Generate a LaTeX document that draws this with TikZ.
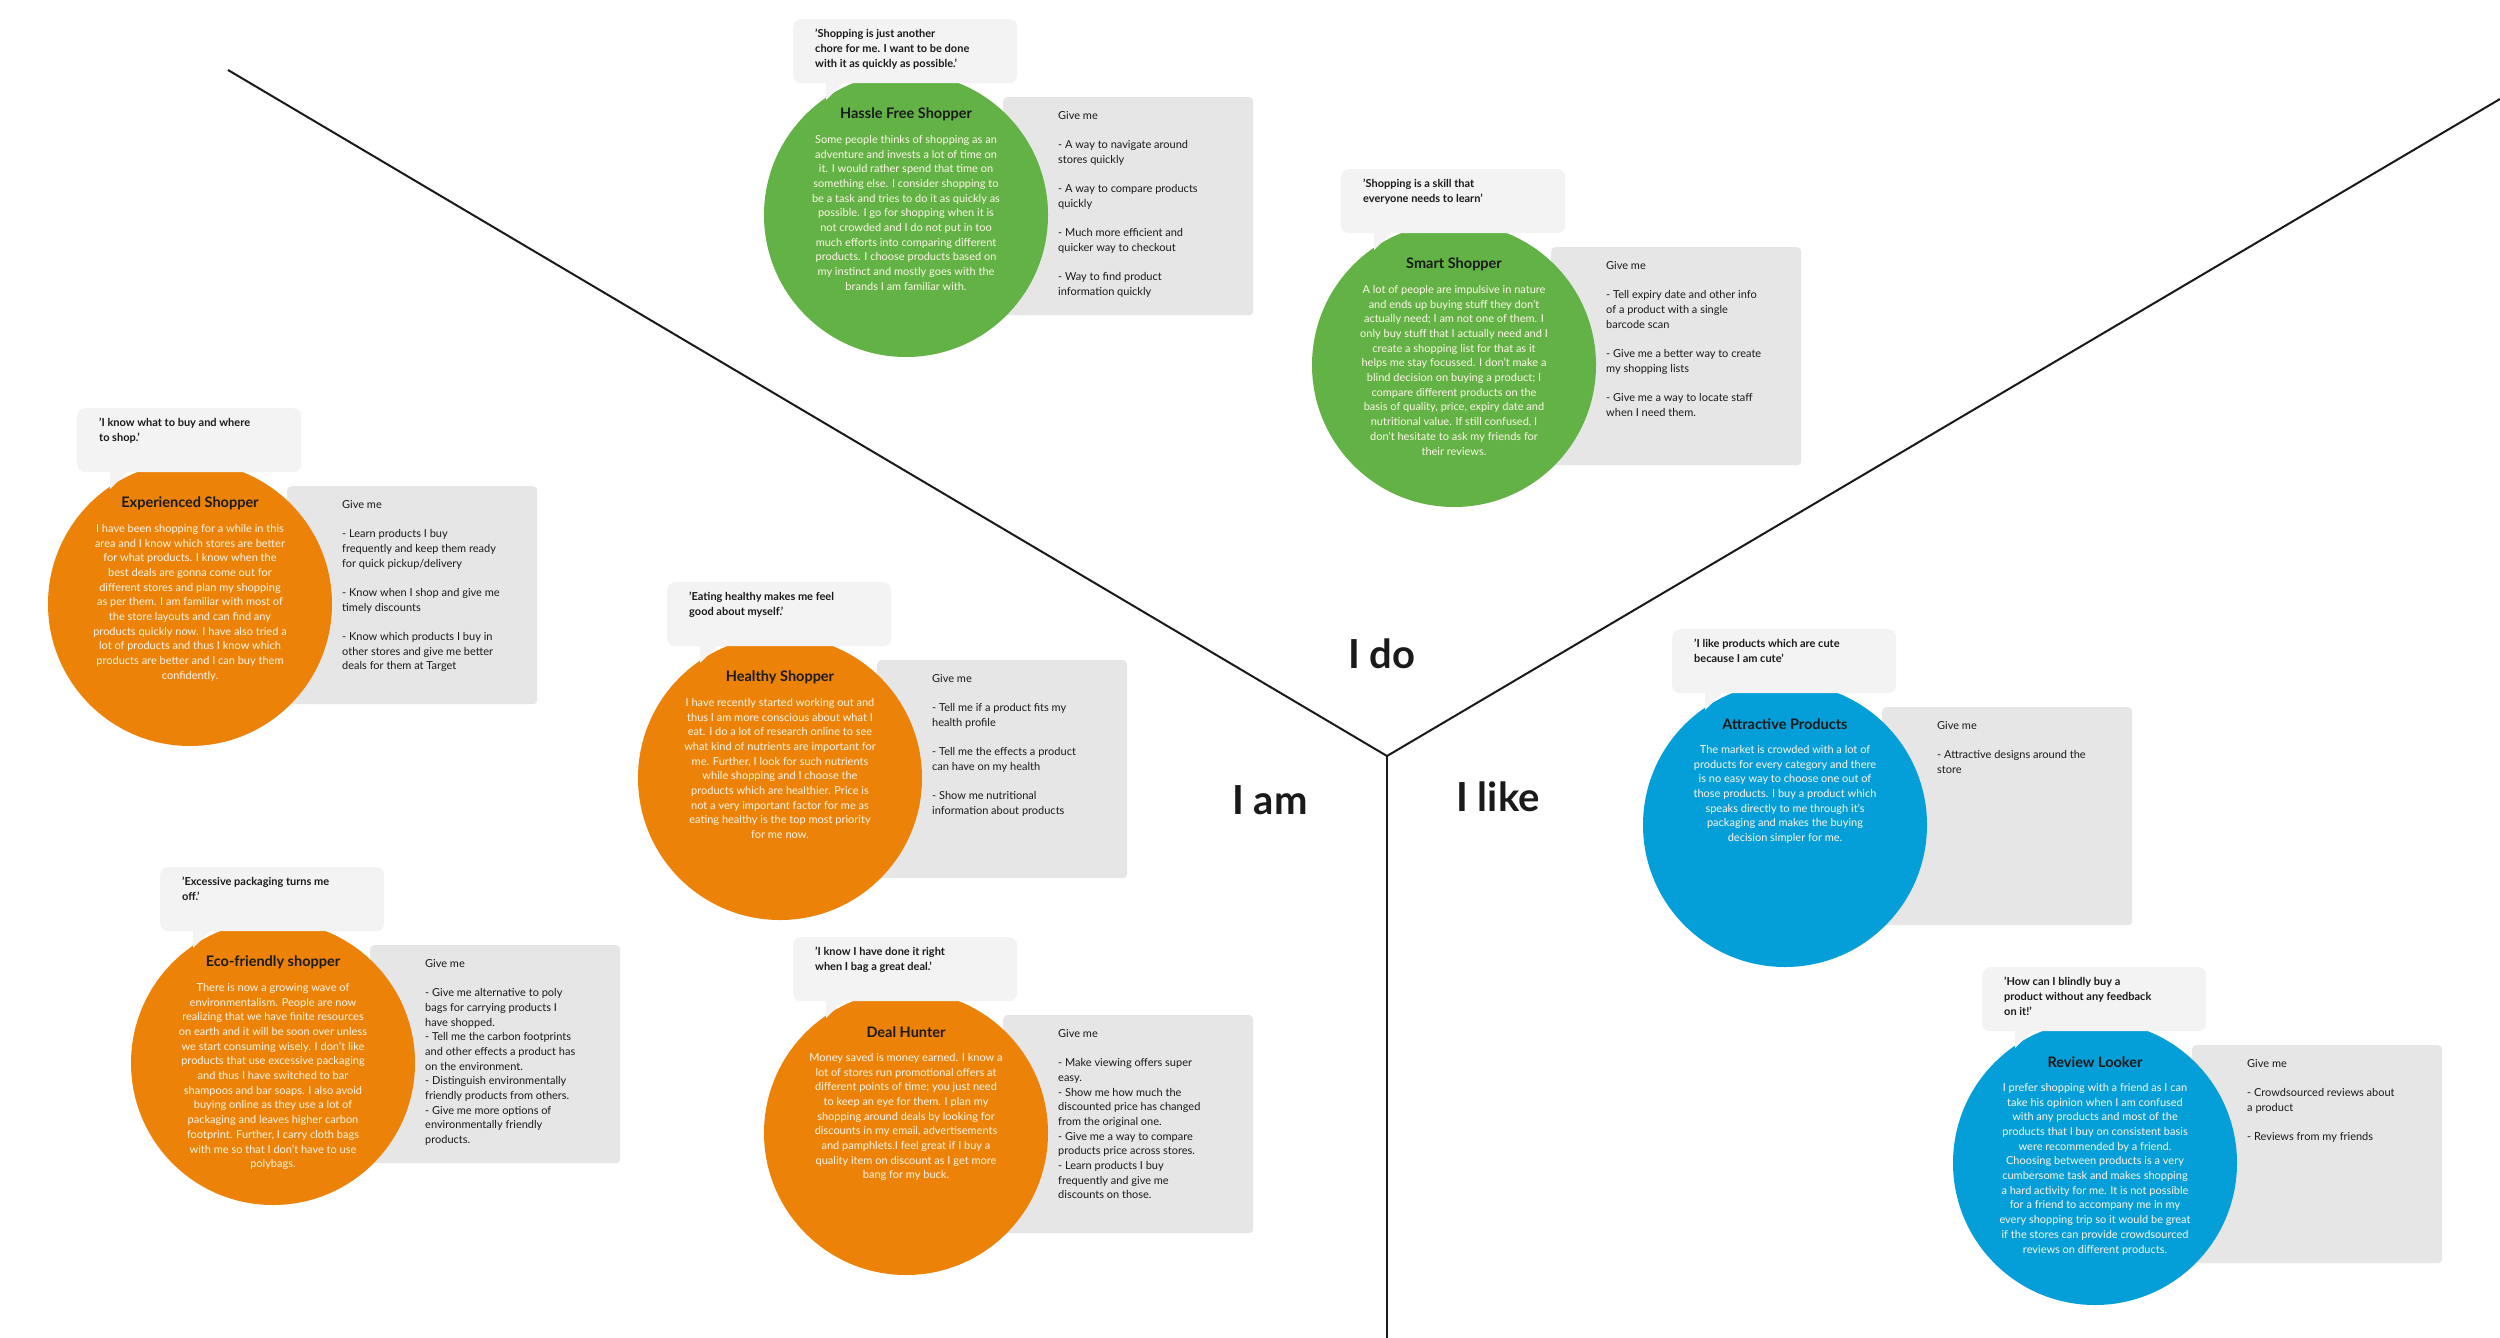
\documentclass[tikz,border=0pt]{standalone}
\usepackage{fontspec}
\setmainfont{Lato}
\definecolor{cgreen}{HTML}{62B245}
\definecolor{corange}{HTML}{EC8208}
\definecolor{cblue}{HTML}{049FD9}
\definecolor{cgray}{HTML}{E6E6E6}
\definecolor{cquote}{HTML}{F3F3F3}
\definecolor{cdark}{HTML}{1A1A1A}
\definecolor{cbody}{HTML}{FFF6E8}
\tikzset{
  gbox/.style={fill=cgray, rounded corners=4pt, inner sep=0pt},
  qbox/.style={fill=cquote, rounded corners=8pt, inner sep=0pt},
  disc/.style={circle, inner sep=0pt, minimum size=284pt},
  qtext/.style={inner sep=0pt, align=left, text=cdark, font=\fontsize{11}{14.7}\selectfont\bfseries},
  ttext/.style={inner sep=0pt, text=cdark, font=\fontsize{14.5}{17}\selectfont\bfseries},
  btext/.style={inner sep=0pt, align=center, text=cbody, font=\fontsize{11}{14.7}\selectfont},
  gtext/.style={inner sep=0pt, align=left, text=cdark, font=\fontsize{11}{14.7}\selectfont},
  biglabel/.style={inner sep=0pt, text=cdark, font=\fontsize{40}{44}\selectfont\bfseries},
  axis/.style={line width=2pt, draw=cdark}
}
\newcommand\persona[8]{%
\begin{scope}[shift={(#2,#3)}]
\node[gbox, minimum width=250pt, minimum height=218pt, anchor=north west] (#1g) at (97,-118) {};
\node[disc, fill=#4] (#1c) at (0,0) {};
\node[qbox, minimum width=224pt, minimum height=64pt, anchor=north west] (#1q) at (-113,-196) {};
\fill[cquote] (-80,-133) -- (-80,-115) -- (-62,-133) -- cycle;
\node[qtext, anchor=north west] (#1qt) at (-91,-186) {#5};
\node[ttext] (#1t) at (0,-101) {#6};
\node[btext, anchor=north] (#1b) at (0,-80) {#7};
\node[gtext, anchor=north west] (#1gt) at (152,-104) {Give me\\[14.7pt]#8};
\end{scope}}
\begin{document}
\begin{tikzpicture}[x=1pt,y=-1pt]
\useasboundingbox[fill=white] (0,0) rectangle (2500,1338);
\coordinate (o) at (1387,756);
\coordinate (tl) at (228,70);
\coordinate (tr) at (2500,99);
\coordinate (bt) at (1387,1338);
\draw[axis] (tl) -- (o) -- (tr);
\draw[axis] (o) -- (bt);
\node[biglabel] (ido) at (1382,654) {I do};
\node[biglabel] (iam) at (1270,800) {I am};
\node[biglabel] (ilike) at (1498,797) {I like};

\persona{hassle}{906}{215}{cgreen}
{'Shopping is just another\\chore for me. I want to be done\\with it as quickly as possible.'}
{Hassle Free Shopper}
{Some people thinks of shopping as an\\adventure and invests a lot of time on\\it. I would rather spend that time on\\something else. I consider shopping to\\be a task and tries to do it as quickly as\\possible. I go for shopping when it is\\not crowded and I do not put in too\\much efforts into comparing different\\products. I choose products based on\\my instinct and mostly goes with the\\brands I am familiar with.}
{- A way to navigate around\\stores quickly\\[14.7pt]- A way to compare products\\quickly\\[14.7pt]- Much more efficient and\\quicker way to checkout\\[14.7pt]- Way to find product\\information quickly}

\persona{smart}{1454}{365}{cgreen}
{'Shopping is a skill that\\everyone needs to learn'}
{Smart Shopper}
{A lot of people are impulsive in nature\\and ends up buying stuff they don't\\actually need; I am not one of them. I\\only buy stuff that I actually need and I\\create a shopping list for that as it\\helps me stay focussed. I don't make a\\blind decision on buying a product; I\\compare different products on the\\basis of quality, price, expiry date and\\nutritional value. If still confused, I\\don't hesitate to ask my friends for\\their reviews.}
{- Tell expiry date and other info\\of a product with a single\\barcode scan\\[14.7pt]- Give me a better way to create\\my shopping lists\\[14.7pt]- Give me a way to locate staff\\when I need them.}

\persona{exp}{190}{604}{corange}
{'I know what to buy and where\\to shop.'}
{Experienced Shopper}
{I have been shopping for a while in this\\area and I know which stores are better\\for what products. I know when the\\best deals are gonna come out for\\different stores and plan my shopping\\as per them. I am familiar with most of\\the store layouts and can find any\\products quickly now. I have also tried a\\lot of products and thus I know which\\products are better and I can buy them\\confidently.}
{- Learn products I buy\\frequently and keep them ready\\for quick pickup/delivery\\[14.7pt]- Know when I shop and give me\\timely discounts\\[14.7pt]- Know which products I buy in\\other stores and give me better\\deals for them at Target}

\persona{healthy}{780}{778}{corange}
{'Eating healthy makes me feel\\good about myself.'}
{Healthy Shopper}
{I have recently started working out and\\thus I am more conscious about what I\\eat. I do a lot of research online to see\\what kind of nutrients are important for\\me. Further, I look for such nutrients\\while shopping and I choose the\\products which are healthier. Price is\\not a very important factor for me as\\eating healthy is the top most priority\\for me now.}
{- Tell me if a product fits my\\health profile\\[14.7pt]- Tell me the effects a product\\can have on my health\\[14.7pt]- Show me nutritional\\information about products}

\persona{eco}{273}{1063}{corange}
{'Excessive packaging turns me\\off.'}
{Eco-friendly shopper}
{There is now a growing wave of\\environmentalism. People are now\\realizing that we have finite resources\\on earth and it will be soon over unless\\we start consuming wisely. I don't like\\products that use excessive packaging\\and thus I have switched to bar\\shampoos and bar soaps. I also avoid\\buying online as they use a lot of\\packaging and leaves higher carbon\\footprint. Further, I carry cloth bags\\with me so that I don't have to use\\polybags.}
{- Give me alternative to poly\\bags for carrying products I\\have shopped.\\- Tell me the carbon footprints\\and other effects a product has\\on the environment.\\- Distinguish environmentally\\friendly products from others.\\- Give me more options of\\environmentally friendly\\products.}

\persona{deal}{906}{1133}{corange}
{'I know I have done it right\\when I bag a great deal.'}
{Deal Hunter}
{Money saved is money earned. I know a\\lot of stores run promotional offers at\\different points of time; you just need\\to keep an eye for them. I plan my\\shopping around deals by looking for\\discounts in my email, advertisements\\and pamphlets.I feel great if I buy a\\quality item on discount as I get more\\bang for my buck.}
{- Make viewing offers super\\easy.\\- Show me how much the\\discounted price has changed\\from the original one.\\- Give me a way to compare\\products price across stores.\\- Learn products I buy\\frequently and give me\\discounts on those.}

\persona{attr}{1785}{825}{cblue}
{'I like products which are cute\\because I am cute'}
{Attractive Products}
{The market is crowded with a lot of\\products for every category and there\\is no easy way to choose one out of\\those products. I buy a product which\\speaks directly to me through it's\\packaging and makes the buying\\decision simpler for me.}
{- Attractive designs around the\\store}

\persona{review}{2095}{1163}{cblue}
{'How can I blindly buy a\\product without any feedback\\on it!'}
{Review Looker}
{I prefer shopping with a friend as I can\\take his opinion when I am  confused\\with any products and most of the\\products that I buy on consistent basis\\were recommended by a friend.\\Choosing between products is a very\\cumbersome task and makes shopping\\a hard activity for me. It is not possible\\for a friend to accompany me in my\\every shopping trip so it would be great\\if the stores can provide crowdsourced\\reviews on different products.}
{- Crowdsourced reviews about\\a product\\[14.7pt]- Reviews from my friends}
\end{tikzpicture}
\end{document}
